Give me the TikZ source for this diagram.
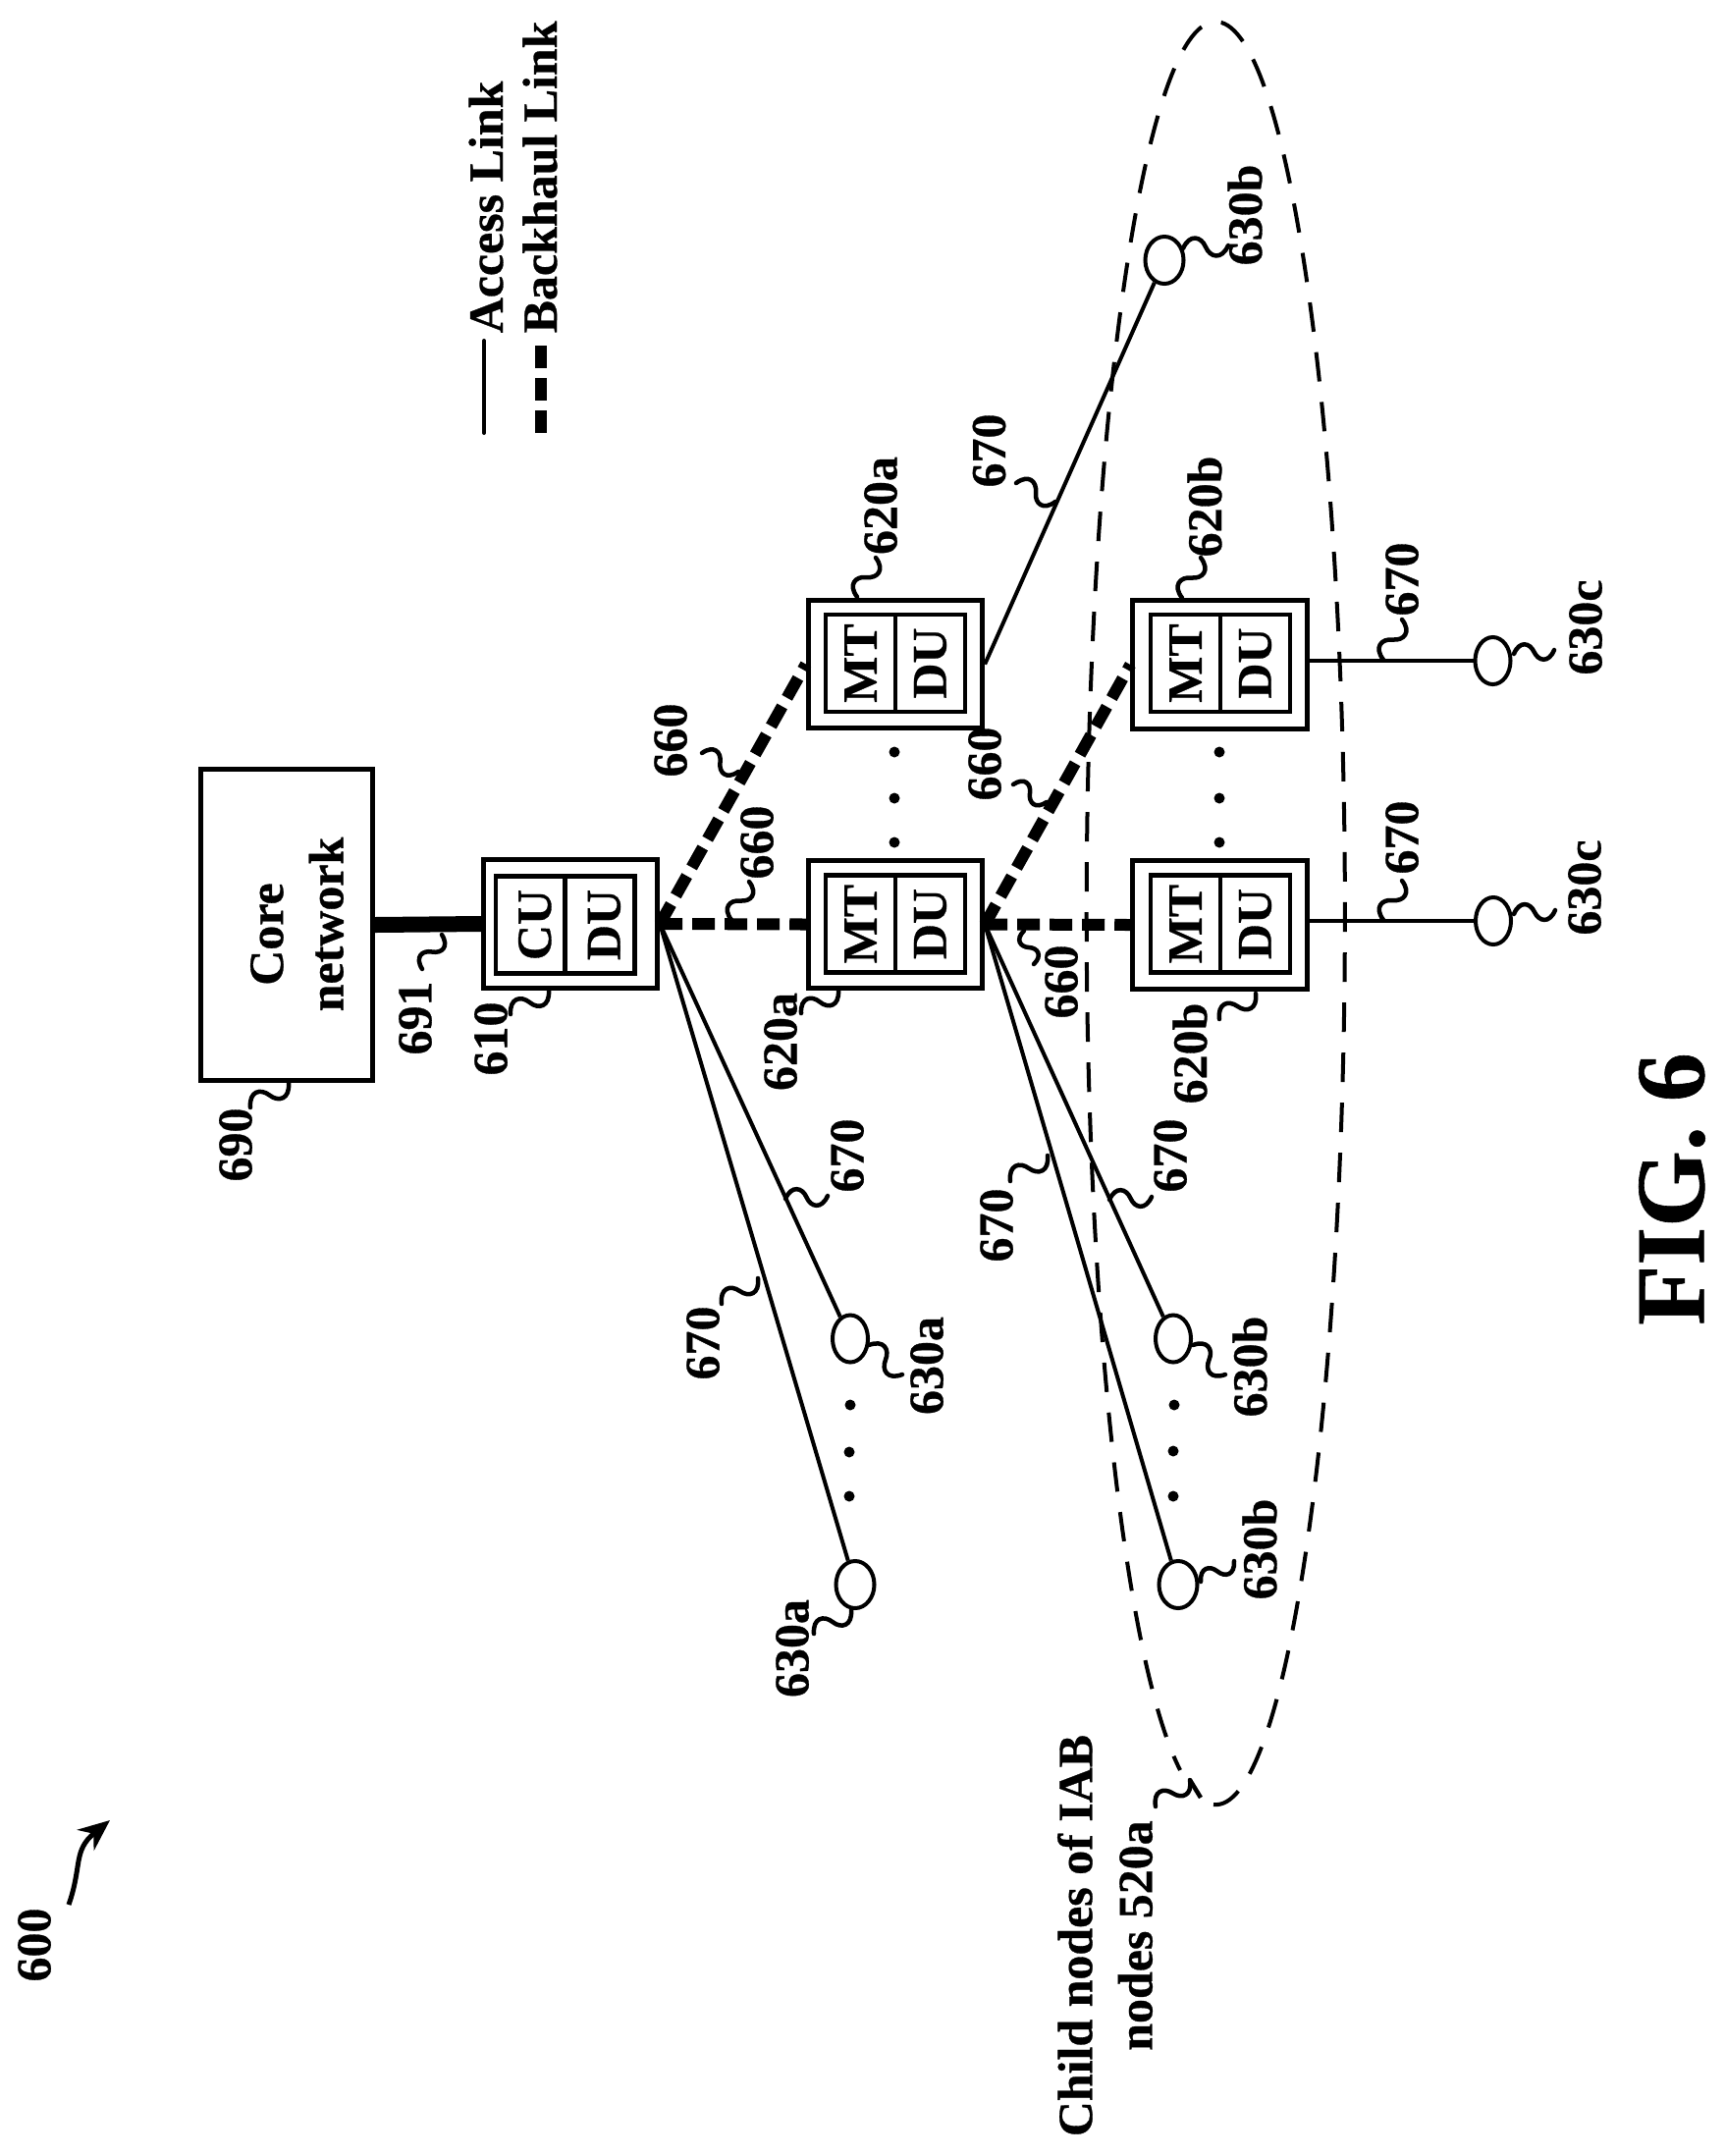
\documentclass[tikz,border=0pt]{standalone}
\usepackage{fontspec}
\setmainfont[BoldFeatures={FakeBold=0.6}]{Liberation Serif}
\usetikzlibrary{calc,arrows.meta,shapes.geometric}
\newcommand{\ldr}[4][squig]{\coordinate (#2s) at (#3); \coordinate (#2e) at (#4); \draw[lead,#1] (#2s) to (#2e);}
\tikzset{
  txt/.style={font=\fontsize{14.2pt}{17.4pt}\selectfont\bfseries,rotate=90,inner sep=0pt,align=center},
  lab/.style={txt},
  outerbox/.style={draw,line width=.047cm,minimum width=1.775cm,minimum height=1.305cm,inner sep=0pt},
  cell/.style={txt,draw,line width=.042cm,minimum width=.99cm,minimum height=.71cm},
  shiftcell/.style={text height=11.7pt,text depth=0pt},
  ue/.style={draw,ellipse,line width=.04cm,minimum width=.36cm,minimum height=.48cm,inner sep=0pt},
  uewide/.style={ue,minimum width=.39cm},
  dotn/.style={circle,fill,minimum size=.11cm,inner sep=0pt},
  access/.style={line width=.04cm},
  backhaul/.style={line width=.12cm,dash pattern=on .23cm off .10cm},
  lead/.style={line width=.045cm,line cap=round},
  squig/.style={to path={.. controls ($(\tikztostart)!.36!62:(\tikztotarget)$) and ($(\tikztostart)!.48!30:(\tikztotarget)$) .. ($(\tikztostart)!.5!(\tikztotarget)$) .. controls ($(\tikztotarget)!.48!30:(\tikztostart)$) and ($(\tikztotarget)!.36!62:(\tikztostart)$) .. (\tikztotarget)}},
  squigr/.style={to path={.. controls ($(\tikztostart)!.36!-62:(\tikztotarget)$) and ($(\tikztostart)!.48!-30:(\tikztotarget)$) .. ($(\tikztostart)!.5!(\tikztotarget)$) .. controls ($(\tikztotarget)!.48!-30:(\tikztostart)$) and ($(\tikztotarget)!.36!-62:(\tikztostart)$) .. (\tikztotarget)}},
}
\begin{document}
\begin{tikzpicture}[x=.01cm,y=-.01cm]
\useasboundingbox (0,0) rectangle (1757,2196);
\fill[white] (0,0) rectangle (1757,2196);
% boxes
\node[draw,line width=.05cm,minimum width=1.75cm,minimum height=3.17cm] (core) at (292,942) {};
\node[txt] (coretxt) at (302.5,941.5) {Core\hspace*{5.7pt}\\network};
\node[outerbox] (cu) at (581,941) {};
\node[cell,shiftcell] (cuA) at (540.5,942) {CU};
\node[cell,shiftcell] (cuB) at (611,942) {DU};
\node[outerbox] (m1) at (912,941.5) {};
\node[cell] (m1A) at (876.5,941) {MT};
\node[cell] (m1B) at (947.5,941) {DU};
\node[outerbox] (m2) at (912,676.5) {};
\node[cell] (m2A) at (876.5,675.5) {MT};
\node[cell] (m2B) at (947.5,675.5) {DU};
\node[outerbox] (m3) at (1242.5,677) {};
\node[cell] (m3A) at (1207.5,675.5) {MT};
\node[cell] (m3B) at (1278.5,675.5) {DU};
\node[outerbox] (m4) at (1242.5,942) {};
\node[cell] (m4A) at (1207.5,941) {MT};
\node[cell] (m4B) at (1278.5,941) {DU};
% terminals
\node[ue] (a1) at (866,1363.5) {};
\node[uewide] (a2) at (871,1614) {};
\node[uewide] (b0) at (1186,265) {};
\node[ue] (b1) at (1195,1363.5) {};
\node[uewide] (b2) at (1200,1614) {};
\node[ue] (c1) at (1520.5,673) {};
\node[ue] (c2) at (1521,938) {};
% child-node ellipse
\draw[line width=.04cm,dash pattern=on .30cm off .21cm] (1236,1838) arc[start angle=-91,end angle=254,x radius=1.315cm,y radius=9.075cm];
% links
\draw[line width=.16cm] (core.east) -- (cu.west);
\draw[backhaul] (cu.east) -- (m1.west);
\draw[backhaul] (cu.east) -- (m2.west);
\draw[backhaul] (m1.east) -- (m3.west);
\draw[backhaul] (m1.east) -- (m4.west);
\draw[access] (cu.east) -- (a1);
\draw[access] (cu.east) -- (a2);
\draw[access] (m1.east) -- (b1);
\draw[access] (m1.east) -- (b2);
\draw[access] (m2.east) -- (b0);
\draw[access] (m3.east |- c1) -- (c1);
\draw[access] (m4.east |- c2) -- (c2);
% dots
\foreach \i/\y in {1/766,2/813,3/858}{
  \node[dotn] (d1\i) at (911,\y) {};
  \node[dotn] (d2\i) at (1242,\y) {};
}
\node[dotn] (d31) at (866,1431) {};
\node[dotn] (d32) at (865,1479) {};
\node[dotn] (d33) at (865,1524) {};
\node[dotn] (d41) at (1196,1431) {};
\node[dotn] (d42) at (1195,1478) {};
\node[dotn] (d43) at (1195,1524) {};
% labels
\node[lab] (n690) at (240,1166) {690};
\ldr{l690}{294,1103}{255,1128}
\node[lab] (n691) at (423,1037) {691};
\ldr{l691}{450,952}{430,987}
\node[lab] (n610) at (500,1058) {610};
\ldr{l610}{559,1009}{520,1033}
\node[lab] (n660a) at (771,858) {660};
\ldr{l660a}{745,937}{763,898}
\node[lab] (n660b) at (683,754) {660};
\ldr{l660b}{752,786}{715,767}
\node[lab] (n620a) at (795,1061) {620a};
\ldr{l620a}{854,1009}{816,1032}
\node[lab] (n620c) at (897,515) {620a};
\ldr{l620c}{873,608}{892,568}
\node[lab] (n660c) at (1003,778) {660};
\ldr{l660c}{1066,817}{1032,799}
\node[lab] (n660d) at (1081,1000) {660};
\ldr[squigr]{l660d}{1043,948}{1053,982}
\node[lab] (n670a) at (1007.5,459) {670};
\ldr{l670a}{1075,511}{1035,492}
\node[lab] (n620b) at (1227,516) {620b};
\ldr{l620b}{1204,609}{1223,568}
\node[lab] (n620d) at (1212,1073) {620b};
\ldr{l620d}{1279,1012}{1242,1038}
\node[lab] (n630b) at (1268,219) {630b};
\ldr{l630b}{1205,253}{1251,250}
\node[lab] (n670b) at (1428,590) {670};
\ldr{l670b}{1409,672}{1428,631}
\node[lab] (n630c) at (1615,639) {630c};
\ldr{l630c}{1542,666}{1583,662}
\node[lab] (n670c) at (1428,853) {670};
\ldr{l670c}{1409,937}{1428,897}
\node[lab] (n630d) at (1614,904) {630c};
\ldr{l630d}{1542,931}{1584,927}
\node[lab] (n670d) at (1192,1177) {670};
\ldr{l670d}{1130,1222}{1173,1219}
\node[lab] (n670e) at (1015,1248) {670};
\ldr{l670e}{1067,1177}{1029,1203}
\node[lab] (n670f) at (863,1177) {670};
\ldr{l670f}{800,1221}{843,1218}
\node[lab] (n670g) at (716,1368) {670};
\ldr{l670g}{772,1302}{735,1328}
\node[lab] (n630a) at (944,1391) {630a};
\ldr{l630a}{885,1370}{919,1400}
\node[lab] (n630e) at (807,1679) {630a};
\ldr{l630e}{867,1640}{829,1664}
\node[lab] (n630f) at (1273,1392) {630b};
\ldr{l630f}{1215,1370}{1248,1400}
\node[lab] (n630g) at (1283,1578) {630b};
\ldr{l630g}{1223,1611}{1257,1590}
\node[lab] (n600) at (35,1981) {600};
\coordinate (arrs) at (70,1940);
\coordinate (arre) at (112,1854);
\draw[line width=.05cm,-{Stealth[length=.32cm,width=.27cm]}] (arrs) .. controls (84,1900) and (74,1885) .. (arre);
\node[lab] (child) at (1125.5,1971.5) {Child nodes of IAB\\nodes 520a};
\ldr{lchild}{1177,1840}{1212,1813}
\coordinate (lchildf) at (1223,1831);
\draw[lead,line cap=butt] (lchilde) -- (lchildf);
% legend
\coordinate (la) at (493,441);
\coordinate (lb) at (493,347);
\coordinate (lc) at (551,441);
\coordinate (ld) at (551,351);
\draw[access,line cap=round] (la) -- (lb);
\draw[backhaul] (lc) -- (ld);
\node[txt,anchor=west] (acc) at (495,340) {Access Link};
\node[txt,anchor=west] (bh) at (550,340) {Backhaul Link};
\node[txt,font=\fontsize{28.4pt}{32pt}\selectfont\bfseries] (fig) at (1703,1211) {FIG. 6};
\end{tikzpicture}
\end{document}
